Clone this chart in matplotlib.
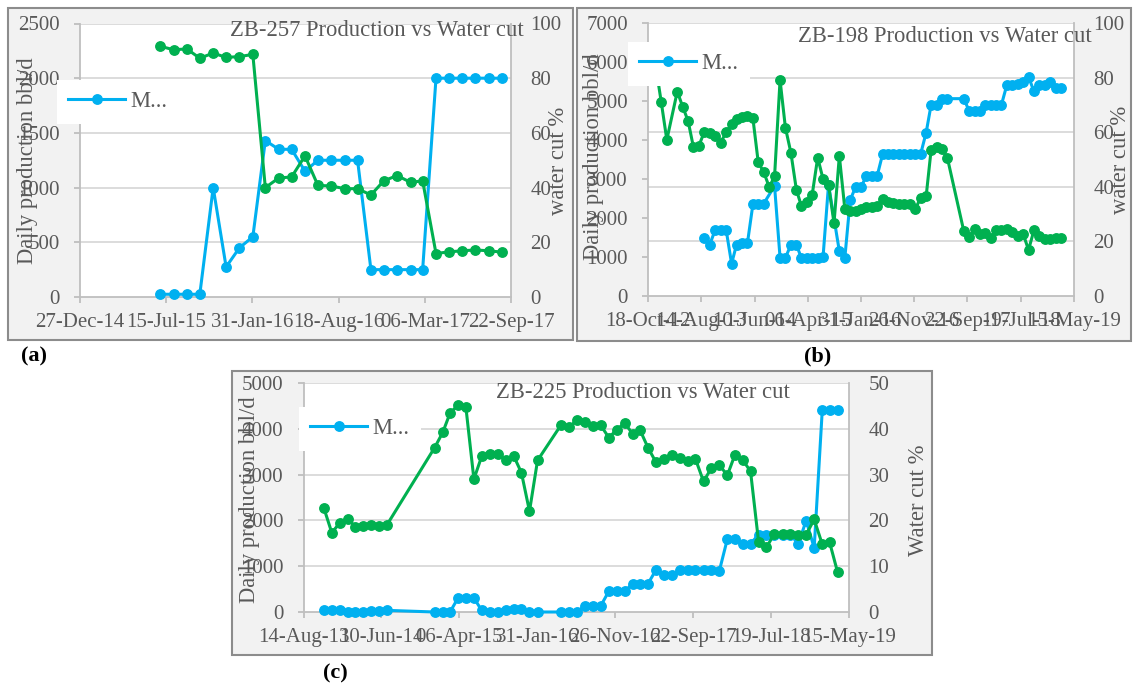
#!/usr/bin/env python3
"""Daily production vs water cut for wells ZB-257, ZB-198 and ZB-225."""

import matplotlib

matplotlib.use("Agg")
import matplotlib.dates as mdates
import matplotlib.pyplot as plt
import numpy as np
from matplotlib.lines import Line2D
from matplotlib.patches import Rectangle

W, H = 1134, 686

BLUE = "#00b0f0"
GREEN = "#00b050"
TEXT = "#595959"
GRID = "#d9d9d9"
AXIS = "#bfbfbf"
FRAME_BG = "#f2f2f2"
FRAME_EDGE = "#8c8c8c"
LABEL_SIZE = 16.3

nan = np.nan

# ---- ZB-257 --------------------------------------------------------------
A_MONTHS = [
    "2015-07", "2015-08", "2015-09", "2015-10", "2015-11", "2015-12",
    "2016-01", "2016-02", "2016-03", "2016-04", "2016-05", "2016-06",
    "2016-07", "2016-08", "2016-09", "2016-10", "2016-11", "2016-12",
    "2017-01", "2017-02", "2017-03", "2017-04", "2017-05", "2017-06",
    "2017-07", "2017-08", "2017-09",
]
A_RATE = [
    25, 25, 25, 25, 1000, 275,
    450, 550, 1430, 1350, 1350, 1150,
    1250, 1250, 1250, 1250, 250, 250,
    250, 250, 250, 2000, 2000, 2000,
    2000, 2000, 2000,
]
A_WC = [
    91.7, 90.4, 90.7, 87.3, 89.2, 87.6,
    87.9, 88.7, 40.0, 43.5, 43.9, 51.6,
    40.8, 40.6, 39.6, 39.6, 37.3, 42.5,
    44.4, 41.9, 42.5, 15.9, 16.5, 16.9,
    17.2, 16.9, 16.4,
]
A_TICKS = ["2014-12-27", "2015-07-15", "2016-01-31", "2016-08-18",
           "2017-03-06", "2017-09-22"]

# ---- ZB-198 --------------------------------------------------------------
B_MONTHS = [
    "2012-12",
    "2013-01", "2013-02", "2013-03", "2013-04", "2013-05", "2013-06",
    "2013-07", "2013-08", "2013-09", "2013-10", "2013-11", "2013-12",
    "2014-01", "2014-02", "2014-03", "2014-04", "2014-05", "2014-06",
    "2014-07", "2014-08", "2014-09", "2014-10", "2014-11", "2014-12",
    "2015-01", "2015-02", "2015-03", "2015-04", "2015-05", "2015-06",
    "2015-07", "2015-08", "2015-09", "2015-10", "2015-11", "2015-12",
    "2016-01", "2016-02", "2016-03", "2016-04", "2016-05", "2016-06",
    "2016-07", "2016-08", "2016-09", "2016-10", "2016-11", "2016-12",
    "2017-01", "2017-02", "2017-03", "2017-04", "2017-05", "2017-06",
    "2017-07", "2017-08", "2017-09", "2017-10", "2017-11", "2017-12",
    "2018-01", "2018-02", "2018-03", "2018-04", "2018-05", "2018-06",
    "2018-07", "2018-08", "2018-09", "2018-10", "2018-11", "2018-12",
    "2019-01", "2019-02", "2019-03",
]
B_RATE = [
    nan,
    nan, nan, nan, nan, nan, nan, nan, nan, 1500, 1320, 1700, 1700,
    1700, 830, 1320, 1350, 1350, 2350, 2370, 2370, nan, 2820, 980, 980,
    1310, 1310, 980, 980, 980, 980, 990, 2850, nan, 1150, 980, 2460,
    2800, 2800, 3080, 3080, 3080, 3640, 3640, 3640, 3640, 3640, 3640, 3640,
    3640, 4190, 4900, 4900, 5060, 5060, nan, nan, 5060, 4750, 4750, 4750,
    4900, 4900, 4900, 4900, 5400, 5400, 5430, 5500, 5620, 5250, 5400, 5400,
    5480, 5330, 5330,
]
B_WC = [
    84.0,
    70.9, 57.2, nan, 74.9, 69.4, 64.1, 54.5, 55.1, 60.2, 59.6, 58.7, 56.2,
    59.9, 63.0, 64.8, 65.4, 66.1, 65.1, 49.0, 45.4, 39.9, 43.8, 79.1, 61.7,
    52.5, 38.9, 33.0, 34.3, 37.1, 50.7, 42.9, 40.7, 26.7, 51.3, 31.8, 31.2,
    31.2, 31.8, 32.6, 32.6, 33.0, 35.5, 34.6, 34.0, 33.7, 33.7, 33.7, 31.8,
    35.9, 36.5, 53.5, 54.4, 53.9, 50.5, nan, nan, 23.8, 21.7, 24.5, 22.6,
    23.0, 21.2, 24.0, 24.2, 24.6, 23.5, 22.0, 22.8, 16.9, 24.0, 22.0, 21.0,
    20.8, 21.3, 21.3,
]
B_TICKS = ["2012-10-18", "2013-08-14", "2014-06-10", "2015-04-06",
           "2016-01-31", "2016-11-26", "2017-09-22", "2018-07-19",
           "2019-05-15"]

# ---- ZB-225 --------------------------------------------------------------
C_MONTHS = [
    "2013-11", "2013-12", "2014-01", "2014-02", "2014-03", "2014-04",
    "2014-05", "2014-06", "2014-07",
    "2015-01", "2015-02", "2015-03", "2015-04", "2015-05", "2015-06",
    "2015-07", "2015-08", "2015-09", "2015-10", "2015-11", "2015-12",
    "2016-01", "2016-02",
    "2016-05", "2016-06", "2016-07", "2016-08", "2016-09", "2016-10",
    "2016-11", "2016-12",
    "2017-01", "2017-02", "2017-03", "2017-04", "2017-05", "2017-06",
    "2017-07", "2017-08", "2017-09", "2017-10", "2017-11", "2017-12",
    "2018-01", "2018-02", "2018-03", "2018-04", "2018-05", "2018-06",
    "2018-07", "2018-08", "2018-09", "2018-10", "2018-11", "2018-12",
    "2019-01", "2019-02", "2019-03", "2019-04",
]
C_RATE = [
    36, 36, 36, 0, 0, 0, 15, 15, 36,
    0, 0, 0, 306, 306, 306, 36, 0, 0, 36, 75, 75, 0, 0,
    0, 0, 0, 130, 130, 130, 450, 450,
    450, 615, 615, 615, 910, 810, 810, 910, 910, 910, 910, 910,
    900, 1600, 1600, 1490, 1490, 1690, 1690, 1690, 1690, 1690, 1490, 1995,
    1400, 4400, 4400, 4400,
]
C_WC = [
    22.6, 17.3, 19.5, 20.4, 18.6, 18.8, 18.9, 18.8, 19.0,
    35.9, 39.2, 43.4, 45.2, 44.8, 29.0, 34.0, 34.5, 34.5, 33.1, 34.1, 30.4,
    22.0, 33.1,
    40.8, 40.3, 41.9, 41.5, 40.6, 40.8, 38.1, 39.7,
    41.3, 38.9, 39.8, 35.9, 32.8, 33.5, 34.3, 33.6, 32.9, 33.4, 28.5, 31.4,
    32.0, 29.9, 34.2, 33.2, 30.7, 15.3, 14.1, 17.1, 17.1, 17.1, 16.9, 16.9,
    20.2, 14.8, 15.3, 8.7,
]
C_TICKS = ["2013-08-14", "2014-06-10", "2015-04-06", "2016-01-31",
           "2016-11-26", "2017-09-22", "2018-07-19", "2019-05-15"]

# layout in pixels (x0, y0, x1, y1), y measured from the top
PANELS = [
    dict(tag="(a)", title="ZB-257 Production vs Water cut",
         months=A_MONTHS, rate=A_RATE, wc=A_WC, ticks=A_TICKS,
         rate_max=2500, rate_step=500, wc_max=100, wc_step=20,
         ylabel="Daily production bbl/d", wclabel="water cut %",
         frame=(8, 8, 573, 340), plot=(80, 23.5, 511, 297),
         title_at=(377, 31), legend_at=(57, 80),
         ylabel_at=(27.5, 161), wclabel_at=(559, 161), tag_at=(34, 356)),
    dict(tag="(b)", title="ZB-198 Production vs Water cut",
         months=B_MONTHS, rate=B_RATE, wc=B_WC, ticks=B_TICKS,
         rate_max=7000, rate_step=1000, wc_max=100, wc_step=20,
         ylabel="Daily production bbl/d", wclabel="water cut %",
         frame=(577, 8, 1131, 341), plot=(648, 23, 1074, 296),
         title_at=(945, 36), legend_at=(628, 42),
         ylabel_at=(593, 157), wclabel_at=(1121, 160), tag_at=(818, 356)),
    dict(tag="(c)", title="ZB-225 Production vs Water cut",
         months=C_MONTHS, rate=C_RATE, wc=C_WC, ticks=C_TICKS,
         rate_max=5000, rate_step=1000, wc_max=50, wc_step=10,
         ylabel="Daily production bbl/d", wclabel="Water cut %",
         frame=(232, 371, 932, 655), plot=(303.5, 383, 849, 612),
         title_at=(643, 392), legend_at=(299, 407),
         ylabel_at=(249.6, 500), wclabel_at=(918, 500), tag_at=(335, 673)),
]


def fig_xy(px, py):
    return px / W, 1 - py / H


def fig_rect(box):
    x0, y0, x1, y1 = box
    return [x0 / W, 1 - y1 / H, (x1 - x0) / W, (y1 - y0) / H]


def plot_series(ax, dates, values, color):
    values = np.asarray(values, dtype=float)
    ok = np.isfinite(values)
    return ax.plot(dates[ok], values[ok], color=color, lw=2.2, marker="o",
                   ms=6.8, clip_on=False, zorder=3)[0]


def draw_panel(fig, p):
    x0, y0, x1, y1 = p["frame"]
    fig.add_artist(Rectangle(fig_xy(x0, y1), (x1 - x0) / W, (y1 - y0) / H,
                             transform=fig.transFigure, facecolor=FRAME_BG,
                             edgecolor=FRAME_EDGE, lw=1.5, zorder=-1))

    ax = fig.add_axes(fig_rect(p["plot"]))
    ax.set_facecolor("white")
    ax2 = ax.twinx()

    dates = np.array(p["months"], dtype="datetime64[D]")
    plot_series(ax, dates, p["rate"], BLUE)
    plot_series(ax2, dates, p["wc"], GREEN)

    ticks = np.array(p["ticks"], dtype="datetime64[D]")
    ax.set_xlim(ticks[0], ticks[-1])
    ax.set_xticks(ticks)
    ax.xaxis.set_major_formatter(mdates.DateFormatter("%d-%b-%y"))

    ax.set_ylim(0, p["rate_max"])
    ax.set_yticks(np.arange(0, p["rate_max"] + 1, p["rate_step"]))
    wc_ticks = np.arange(0, p["wc_max"] + 1, p["wc_step"])
    ax2.set_ylim(0, p["wc_max"])
    ax2.set_yticks(wc_ticks)

    # gridlines follow the water-cut axis but sit under both series
    for t in wc_ticks[1:]:
        ax.axhline(t * p["rate_max"] / p["wc_max"], color=GRID, lw=1.3,
                   zorder=0.5)

    for side in ("top", "right"):
        ax.spines[side].set_visible(False)
    for side in ("left", "bottom"):
        ax.spines[side].set_color(AXIS)
        ax.spines[side].set_linewidth(1.3)
    for side in ("top", "left", "bottom"):
        ax2.spines[side].set_visible(False)
    ax2.spines["right"].set_color(AXIS)
    ax2.spines["right"].set_linewidth(1.3)

    ax.tick_params(axis="x", direction="out", length=4.5, width=1.3,
                   color=AXIS, labelcolor=TEXT, pad=7)
    ax.tick_params(axis="y", direction="out", length=4.5, width=1.3,
                   color=AXIS, labelcolor=TEXT, pad=10)
    ax2.tick_params(axis="y", length=0, labelcolor=TEXT, pad=14)

    handle = Line2D([], [], color=BLUE, lw=2.2, marker="o", ms=6.8)
    ax2.legend([handle], ["M..."], loc="upper left",
               bbox_to_anchor=fig_xy(*p["legend_at"]),
               bbox_transform=fig.transFigure, borderaxespad=0,
               frameon=True, fancybox=False, framealpha=1,
               facecolor="white", edgecolor="none", labelcolor=TEXT,
               fontsize=LABEL_SIZE, handlelength=2.5, handletextpad=0.25,
               borderpad=0.5)

    fig.text(*fig_xy(*p["title_at"]), p["title"], color=TEXT,
             fontsize=LABEL_SIZE, ha="center", va="center")
    fig.text(*fig_xy(*p["ylabel_at"]), p["ylabel"], color=TEXT,
             fontsize=LABEL_SIZE, rotation=90, ha="center", va="center")
    fig.text(*fig_xy(*p["wclabel_at"]), p["wclabel"], color=TEXT,
             fontsize=LABEL_SIZE, rotation=90, ha="center", va="center")
    fig.text(*fig_xy(*p["tag_at"]), p["tag"], color="black",
             fontsize=16, fontweight="bold", ha="center", va="center")


def main():
    plt.rcParams["font.family"] = ["Liberation Serif", "DejaVu Serif"]
    plt.rcParams["font.size"] = 15

    fig = plt.figure(figsize=(W / 100, H / 100), dpi=100)
    for panel in PANELS:
        draw_panel(fig, panel)
    fig.savefig("out.png", dpi=100, facecolor="white")


if __name__ == "__main__":
    main()
